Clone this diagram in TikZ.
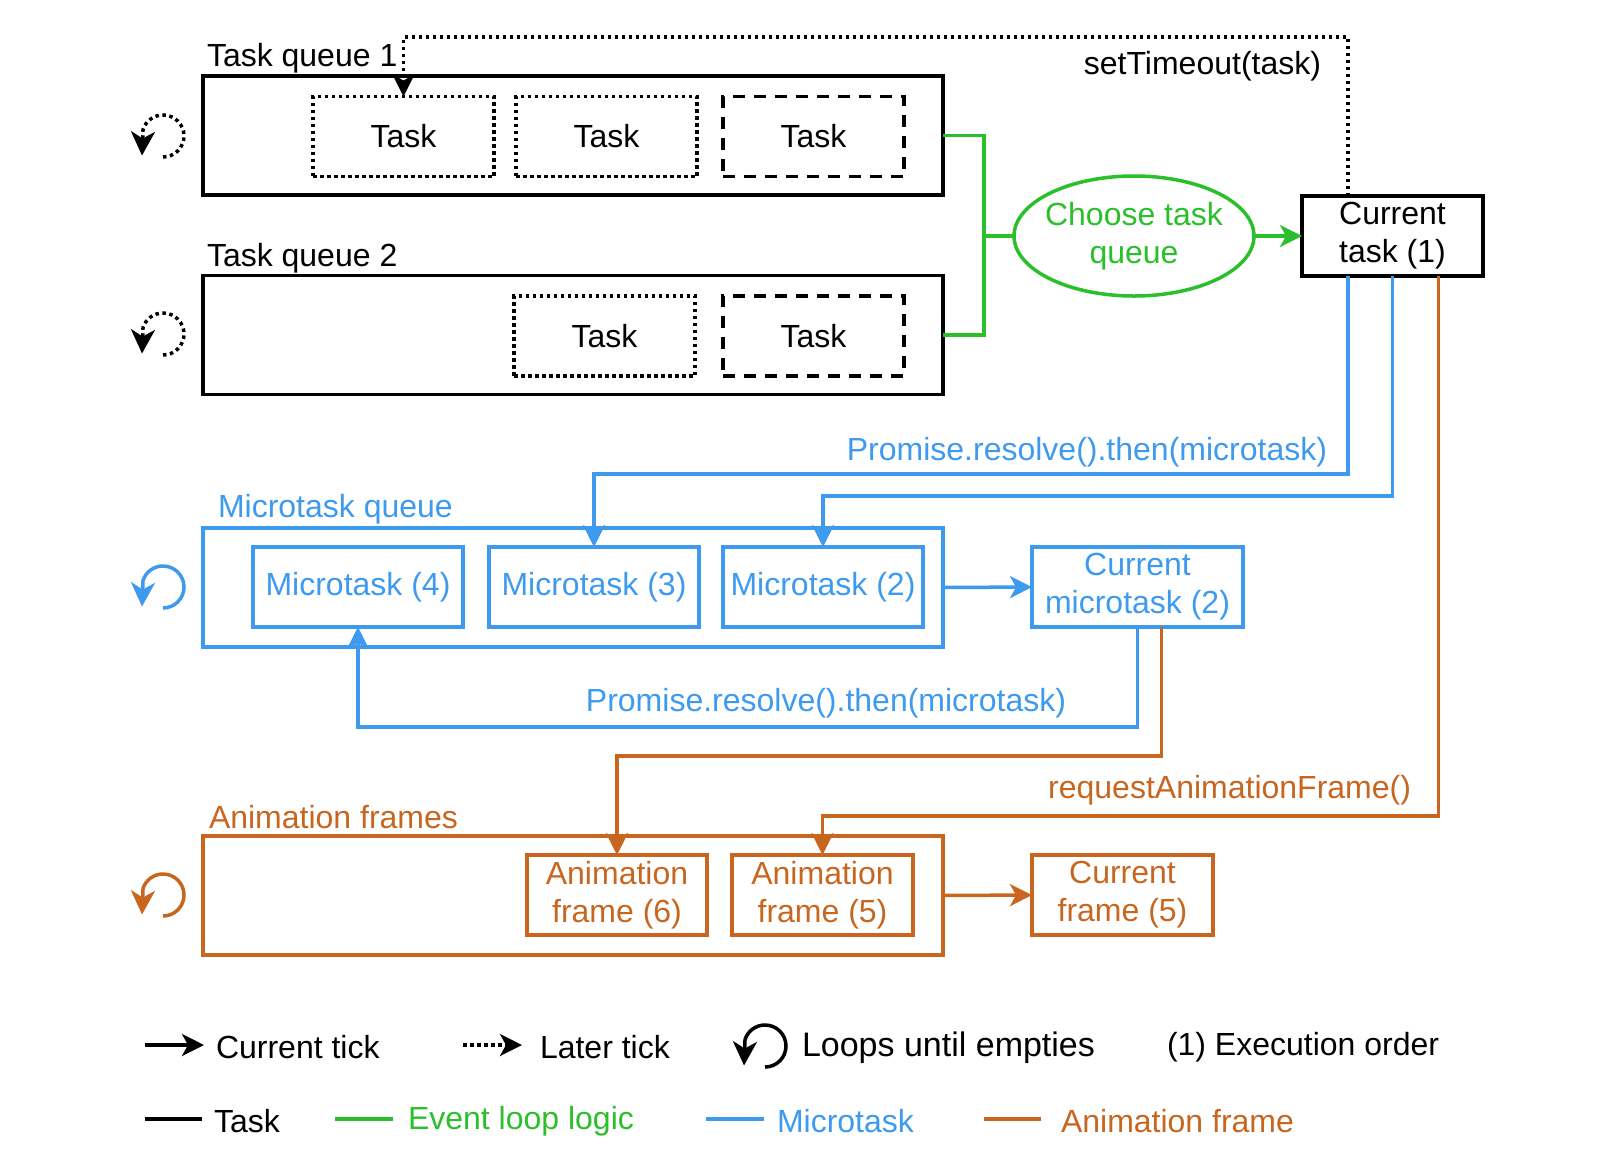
\documentclass[tikz,border=0pt]{standalone}
\usepackage{fontspec}
\setmainfont{Liberation Sans}
\usetikzlibrary{arrows.meta,shapes.geometric}
\definecolor{evgreen}{HTML}{2BBF2B}
\definecolor{mtblue}{HTML}{3D9AEF}
\definecolor{afor}{HTML}{C8661F}

\begin{document}
\begin{tikzpicture}[x=1pt,y=-1pt,line width=3.5pt,
  every node/.style={font=\fontsize{32}{38}\selectfont,inner sep=0pt,outer sep=0pt},
  queue/.style={draw,rectangle,minimum width=740pt,minimum height=119pt},
  item/.style={draw,rectangle,minimum height=80pt,align=center},
  dotbox/.style={item,minimum width=181pt,dash pattern=on 3.5pt off 3.5pt},
  dashbox/.style={item,minimum width=181pt,dash pattern=on 12pt off 9pt},
  dotline/.style={dash pattern=on 3.5pt off 3.5pt},
  tip/.style={-{Stealth[length=22pt,width=22pt,inset=6pt]}},
  bigtip/.style={-{Stealth[length=24pt,width=24pt,inset=7pt]}},
  lbl/.style={anchor=west},
  rlbl/.style={anchor=east}]
\useasboundingbox (0,0) rectangle (1610,1176);

% task queues
\node[queue] (q1) at (573,135.5) {};
\node[lbl] (q1l) at (207,58) {Task queue 1};
\node[dotbox] (ta) at (403.5,136.5) {Task};
\node[dotbox] (tb) at (606.5,136.5) {Task};
\node[dashbox] (tc) at (813.5,136.5) {Task};

\node[queue] (q2) at (573,335) {};
\node[lbl] (q2l) at (207,258) {Task queue 2};
\node[dotbox] (td) at (604.5,336) {Task};
\node[dashbox] (te) at (813.5,336) {Task};

% event loop
\node[draw=evgreen,text=evgreen,ellipse,inner xsep=-6pt,minimum width=240pt,minimum height=120pt,align=center]
  (ch) at (1134,236) {Choose task\\queue};
\node[item,minimum width=181pt] (cur) at (1392.5,236) {Current\\task (1)};
\coordinate (gj) at (984,236);
\draw[evgreen] (q1.east) -| (gj) |- (q2.east);
\draw[evgreen] (gj) -- (ch.west);
\draw[evgreen,tip] (ch.east) -- (cur.west);

% later tick
\draw[dotline,tip] ([xshift=-44.5pt]cur.north) |- ([yshift=59.5pt]ta.north) -- (ta.north);
\node[rlbl] (stl) at (1321,66) {setTimeout(task)};

% microtasks
\node[queue,draw=mtblue] (mq) at (573,587.5) {};
\node[lbl,text=mtblue] (mql) at (218,509) {Microtask queue};
\node[item,draw=mtblue,text=mtblue,minimum width=210pt] (m4) at (358,587) {Microtask (4)};
\node[item,draw=mtblue,text=mtblue,minimum width=210pt] (m3) at (594,587) {Microtask (3)};
\node[item,draw=mtblue,text=mtblue,minimum width=200pt] (m2) at (823,587) {Microtask (2)};
\node[item,draw=mtblue,text=mtblue,minimum width=211pt] (cm) at (1137.5,587) {Current\\microtask (2)};
\draw[mtblue,tip] (mq.east) -- (cm.west);
\draw[mtblue,tip] ([xshift=-44.5pt]cur.south) |- ([yshift=73pt]m3.north) -- (m3.north);
\draw[mtblue,tip] (cur.south) |- ([yshift=51pt]m2.north) -- (m2.north);
\node[rlbl,text=mtblue] (pl1) at (1327,452) {Promise.resolve().then(microtask)};
\draw[mtblue,tip] (cm.south) |- ([yshift=-100pt]m4.south) -- (m4.south);
\node[text=mtblue] (pl2) at (826,703) {Promise.resolve().then(microtask)};

% animation frames
\node[queue,draw=afor] (aq) at (573,895.5) {};
\node[lbl,text=afor] (aql) at (209,817) {Animation frames};
\node[item,draw=afor,text=afor,minimum width=180pt] (a6) at (617,895) {Animation\\frame (6)};
\node[item,draw=afor,text=afor,minimum width=181pt] (a5) at (822.5,895) {Animation\\frame (5)};
\node[item,draw=afor,text=afor,minimum width=181pt] (cf) at (1122.5,895) {Current\\frame (5)};
\draw[afor,tip] (aq.east) -- (cf.west);
\draw[afor,tip] ([xshift=24pt]cm.south) |- ([yshift=99pt]a6.north) -- (a6.north);
\draw[afor,tip] ([xshift=46pt]cur.south) |- ([yshift=39pt]a5.north) -- (a5.north);
\node[rlbl,text=afor] (raf) at (1411,790) {requestAnimationFrame()};

% loop icons
\draw[dotline,bigtip] (163,157) arc[start angle=90,end angle=-162,radius=21] -- ++(-1,26);
\draw[dotline,bigtip] (163,355) arc[start angle=90,end angle=-162,radius=21] -- ++(-1,26);
\draw[mtblue,bigtip] (163,608) arc[start angle=90,end angle=-162,radius=21] -- ++(-1,26);
\draw[afor,bigtip] (163,916) arc[start angle=90,end angle=-162,radius=21] -- ++(-1,26);

% legend
\coordinate (l1a) at (145,1045); \coordinate (l1b) at (204,1045);
\draw[tip] (l1a) -- (l1b);
\node[lbl] (lg1) at (216,1047) {Current tick};
\coordinate (l2a) at (463,1045); \coordinate (l2b) at (522,1045);
\draw[dotline,tip] (l2a) -- (l2b);
\node[lbl] (lg2) at (540,1047) {Later tick};
\draw[bigtip] (765,1067) arc[start angle=90,end angle=-162,radius=21] -- ++(-1,26);
\node[lbl,font=\fontsize{34}{40}\selectfont] (lg3) at (802,1048) {Loops until empties};
\node[lbl] (lg4) at (1167,1047) {(1) Execution order};

\coordinate (l5a) at (145,1119); \coordinate (l5b) at (202,1119);
\draw (l5a) -- (l5b);
\node[lbl] (lg5) at (214,1121) {Task};
\coordinate (l6a) at (335,1119); \coordinate (l6b) at (393,1119);
\draw[evgreen] (l6a) -- (l6b);
\node[lbl,text=evgreen] (lg6) at (408,1121) {Event loop logic};
\coordinate (l7a) at (706,1119); \coordinate (l7b) at (764,1119);
\draw[mtblue] (l7a) -- (l7b);
\node[lbl,text=mtblue] (lg7) at (777,1121) {Microtask};
\coordinate (l8a) at (984,1119); \coordinate (l8b) at (1041,1119);
\draw[afor] (l8a) -- (l8b);
\node[lbl,text=afor] (lg8) at (1061,1121) {Animation frame};
\end{tikzpicture}
\end{document}
